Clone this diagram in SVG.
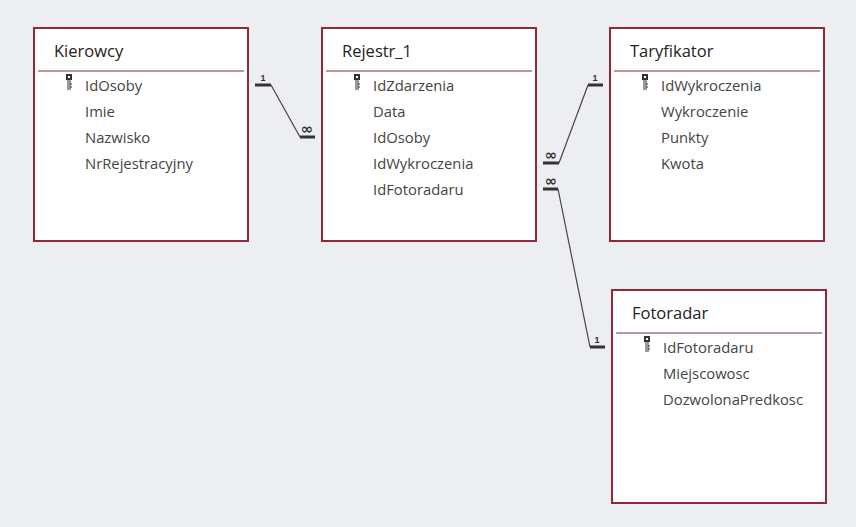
<svg xmlns="http://www.w3.org/2000/svg" width="856" height="527" viewBox="0 0 856 527">
<defs>
<style>
.box{fill:#fff;stroke:#8b2a3a;stroke-width:2}
.hl{stroke:#7a3040;stroke-width:1.2}
.t{font-family:"Segoe UI","Open Sans","Liberation Sans",sans-serif;font-size:16.5px;fill:#222}
.f{font-family:"Segoe UI","Open Sans","Liberation Sans",sans-serif;font-size:14.8px;fill:#444}
.ln{stroke:#444;stroke-width:1.2;fill:none}
.bar{stroke:#333;stroke-width:3}
.c{font-family:"Liberation Sans",sans-serif;font-size:9px;font-weight:bold;fill:#333;text-anchor:middle}
.inf{font-family:"DejaVu Sans",sans-serif;font-size:15px;font-weight:bold;fill:#333;text-anchor:middle}
</style>
<g id="key"><rect x="0" y="0" width="6" height="6" fill="#333"/><rect x="2" y="2" width="2" height="2" fill="#fff"/><path d="M2 6V16M4 6V16M4 10H6M4 13H6" stroke="#333" stroke-width="1" fill="none"/></g>
</defs>
<rect width="856" height="527" fill="#eceef1"/>
<g id="Kierowcy">
<rect class="box" x="34" y="28" width="214" height="213"/>
<line class="hl" x1="38" y1="71" x2="244" y2="71"/>
<text class="t" x="54" y="57">Kierowcy</text>
<use href="#key" x="66" y="74"/>
<text class="f" x="85" y="91">IdOsoby</text>
<text class="f" x="85" y="117">Imie</text>
<text class="f" x="85" y="143">Nazwisko</text>
<text class="f" x="85" y="169">NrRejestracyjny</text>
</g>
<g id="Rejestr_1">
<rect class="box" x="322" y="28" width="214" height="213"/>
<line class="hl" x1="326" y1="71" x2="532" y2="71"/>
<text class="t" x="342" y="57">Rejestr_1</text>
<use href="#key" x="354" y="74"/>
<text class="f" x="373" y="91">IdZdarzenia</text>
<text class="f" x="373" y="117">Data</text>
<text class="f" x="373" y="143">IdOsoby</text>
<text class="f" x="373" y="169">IdWykroczenia</text>
<text class="f" x="373" y="195">IdFotoradaru</text>
</g>
<g id="Taryfikator">
<rect class="box" x="610" y="28" width="214" height="213"/>
<line class="hl" x1="614" y1="71" x2="820" y2="71"/>
<text class="t" x="630" y="57">Taryfikator</text>
<use href="#key" x="642" y="74"/>
<text class="f" x="661" y="91">IdWykroczenia</text>
<text class="f" x="661" y="117">Wykroczenie</text>
<text class="f" x="661" y="143">Punkty</text>
<text class="f" x="661" y="169">Kwota</text>
</g>
<g id="Fotoradar">
<rect class="box" x="612" y="290" width="214" height="213"/>
<line class="hl" x1="616" y1="333" x2="822" y2="333"/>
<text class="t" x="632" y="319">Fotoradar</text>
<use href="#key" x="644" y="336"/>
<text class="f" x="663" y="353">IdFotoradaru</text>
<text class="f" x="663" y="379">Miejscowosc</text>
<text class="f" x="663" y="405">DozwolonaPredkosc</text>
</g>
<g id="connectors">
<line class="bar" x1="255" y1="85" x2="271" y2="85"/>
<line class="ln" x1="271" y1="85" x2="300" y2="137"/>
<line class="bar" x1="300" y1="137" x2="315" y2="137"/>
<text class="c" x="263" y="81">1</text>
<text class="inf" x="307" y="134">∞</text>
<line class="bar" x1="588" y1="85" x2="603" y2="85"/>
<line class="ln" x1="588" y1="85" x2="559" y2="163"/>
<line class="bar" x1="543" y1="163" x2="559" y2="163"/>
<text class="c" x="595" y="81">1</text>
<text class="inf" x="551" y="160">∞</text>
<line class="bar" x1="543" y1="189" x2="558" y2="189"/>
<line class="ln" x1="558" y1="189" x2="590" y2="347"/>
<line class="bar" x1="590" y1="347" x2="605" y2="347"/>
<text class="inf" x="551" y="186">∞</text>
<text class="c" x="597" y="343">1</text>
</g>
</svg>
